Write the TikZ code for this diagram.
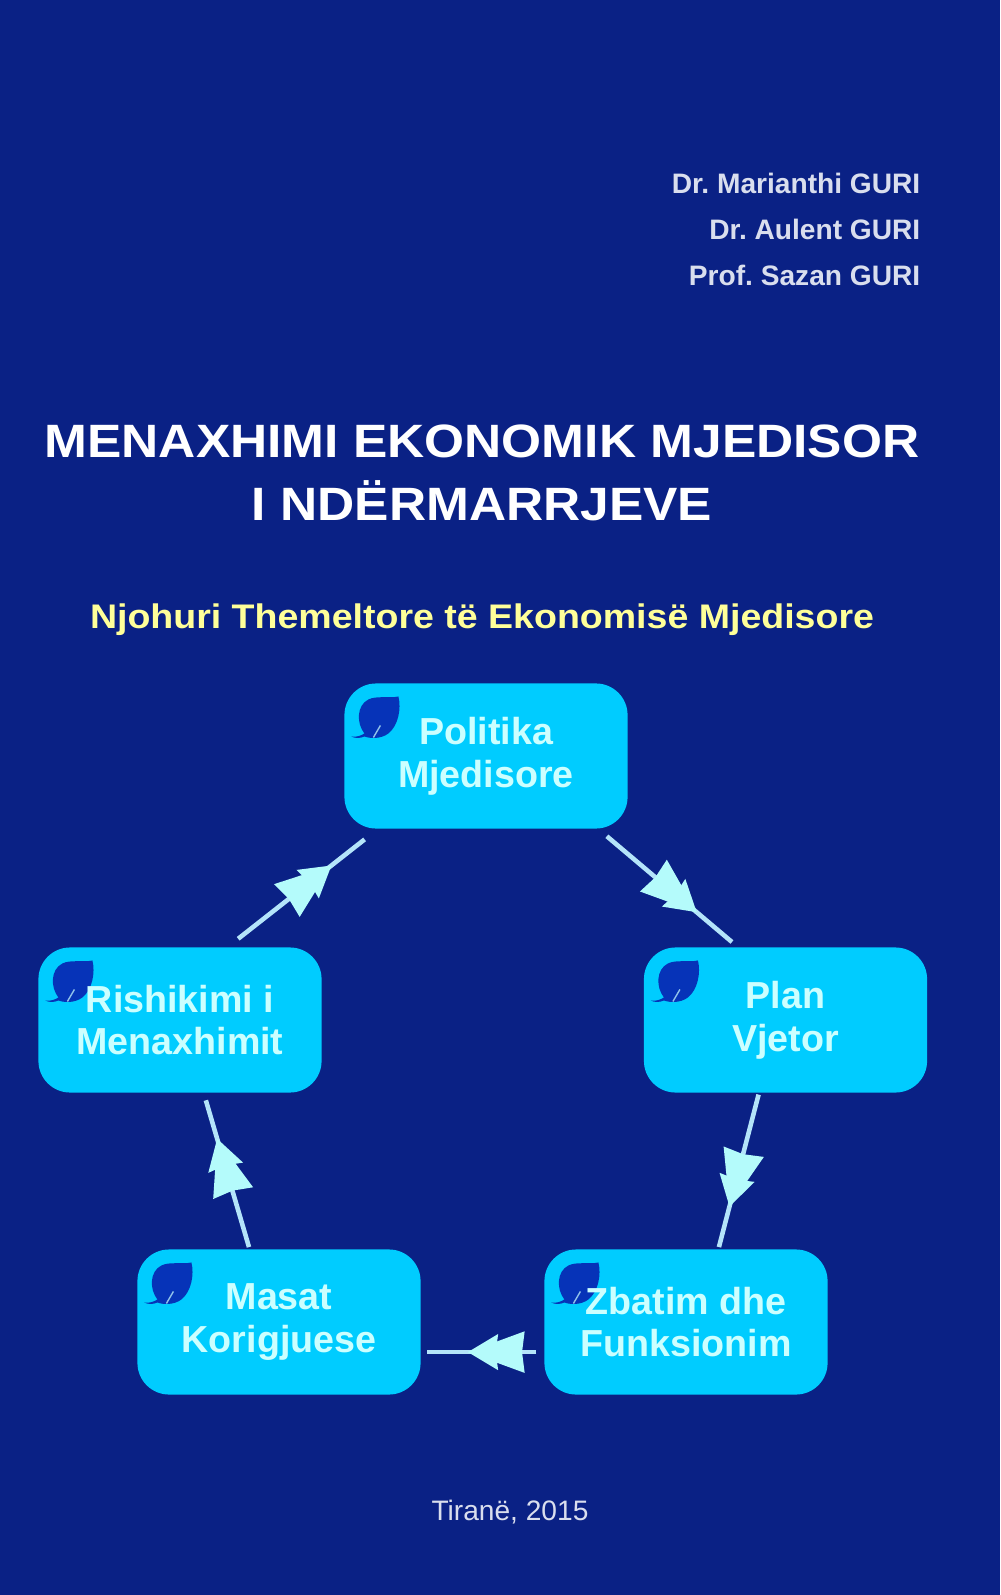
\documentclass[tikz,border=0pt]{standalone}
\usepackage{fontspec}
\setmainfont{Liberation Sans}
\newfontfamily\widefont[FakeStretch=1.1]{Liberation Sans}
\usetikzlibrary{arrows.meta, decorations.markings, backgrounds}

\definecolor{coverblue}{HTML}{0A2185}
\definecolor{boxcyan}{HTML}{00CCFF}
\definecolor{boxtext}{HTML}{CCFFFF}
\definecolor{leafblue}{HTML}{0633B8}
\definecolor{linecyan}{HTML}{B4E4FA}
\definecolor{tipcyan}{HTML}{B4FBFB}
\definecolor{softwhite}{HTML}{D9DEEE}
\definecolor{softyellow}{HTML}{FFFF99}

\tikzset{
    stepbox/.style={
        minimum width=2.83cm,
        minimum height=1.45cm,
        inner sep=0pt,
        outer sep=0pt,
        align=center,
        text=boxtext,
        font=\fontsize{10.7}{12.2}\selectfont\bfseries
    },
    flow/.style={
        draw=linecyan,
        line width=1.3pt,
        decoration={
            markings,
            mark=at position #1 with {
                \arrow[tipcyan]{Stealth[length=16pt,width=11.5pt,inset=0.6pt,sep=-8.5pt]Stealth[length=8.5pt,width=10pt,inset=0.6pt]}
            }
        },
        postaction={decorate}
    },
    author/.style={anchor=east, inner sep=0pt, text=softwhite, font=\fontsize{8}{10}\selectfont\bfseries}
}

\begin{document}
\frenchspacing
\begin{tikzpicture}[x=0.01cm, y=-0.01cm]
    \useasboundingbox (0,0) rectangle (1000,1595);

    % Authors
    \node[author] (marianthi) at (921,183) {Dr. Marianthi GURI};
    \node[author] (aulent) at (921,229) {Dr. Aulent GURI};
    \node[author] (sazan) at (921,275) {Prof. Sazan GURI};

    % Title and subtitle
    \node[align=center, inner sep=0pt, text=white, font=\widefont\fontsize{13.3}{17.9}\selectfont\bfseries] (title) at (482,473)
        {MENAXHIMI EKONOMIK MJEDISOR\\I NDËRMARRJEVE};
    \node[inner sep=0pt, text=softyellow, font=\widefont\fontsize{9.7}{13}\selectfont\bfseries] (subtitle) at (482,620)
        {Njohuri Themeltore të Ekonomisë Mjedisore};

    % The five boxes of the cycle
    \node[stepbox] (politika) at (486,756) {Politika\\Mjedisore};
    \node[stepbox] (plan) at (785.5,1020) {Plan\\Vjetor};
    \node[stepbox] (zbatim) at (686,1322) {Zbatim dhe\\Funksionim};
    \node[stepbox] (masat) at (279,1322) {Masat\\Korigjuese};
    \node[stepbox] (rishikimi) at (180,1020) {Rishikimi i\\Menaxhimit};

    % Arrows between the boxes
    \draw[flow=0.705, shorten <=3.4pt, shorten >=2.4pt] (politika.-33) -- (plan.123.8);
    \draw[flow=0.727, shorten <=0.6pt, shorten >=0.7pt] (plan.250.5) -- (zbatim.66.8);
    \draw[flow=0.618, shorten <=2.3pt, shorten >=1.7pt] (zbatim.192.36) -- (zbatim.192.36 -| masat.east);
    \draw[flow=0.706, shorten <=0.7pt, shorten >=2.3pt] (masat.112.6) -- (rishikimi.288.4);
    \draw[flow=0.69, shorten <=4pt, shorten >=5pt] (rishikimi.57.6) -- (politika.214);

    % Place and year
    \node[inner sep=0pt, text=softwhite, font=\fontsize{8}{10}\selectfont] (place) at (510,1512) {Tiranë, 2015};

    % Cover, box faces and leaves go behind the texts
    \begin{scope}[on background layer]
        \fill[coverblue] (0,0) rectangle (1000,1595);
        \foreach \boxname in {politika, plan, zbatim, masat, rishikimi} {
            \fill[boxcyan, rounded corners=9pt] (\boxname.north west) rectangle (\boxname.south east);
            \begin{scope}[shift={(\boxname.north west)}]
                \fill[leafblue] (7,53) .. controls (12,54) and (17,52) .. (20,50)
                    .. controls (12,40) and (12,22) .. (24,16)
                    .. controls (32,12) and (45,15) .. (54,13)
                    .. controls (57,25) and (54,42) .. (44,50)
                    .. controls (36,56) and (25,55) .. (20,53)
                    .. controls (16,55) and (10,55) .. (7,53) -- cycle;
                \draw[boxtext!70!leafblue, line width=0.4pt] (29,54) -- (36,42);
            \end{scope}
        }
    \end{scope}
\end{tikzpicture}
\end{document}
